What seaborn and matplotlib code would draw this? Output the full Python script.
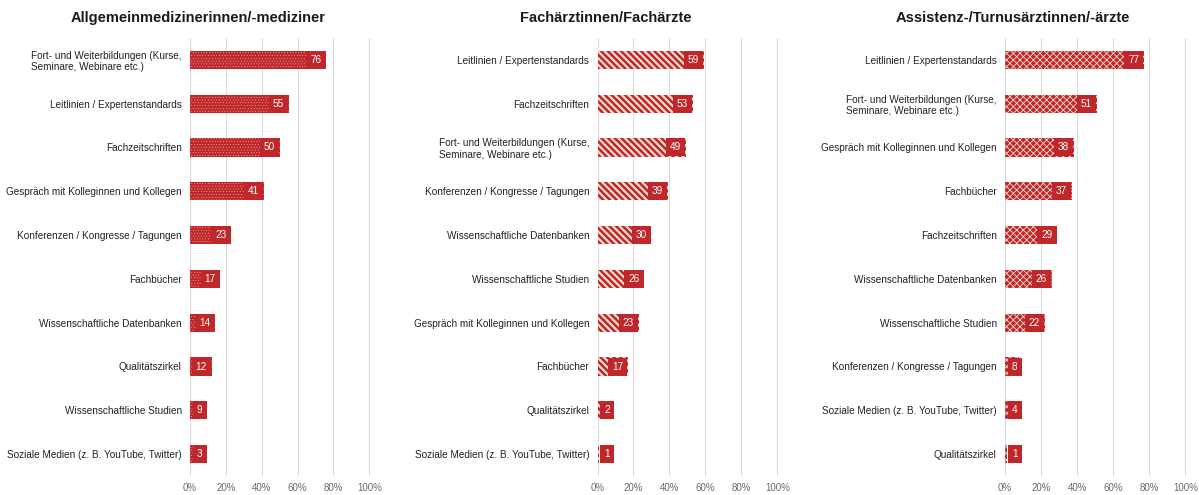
import matplotlib
matplotlib.use("Agg")
import matplotlib.pyplot as plt
import seaborn as sns
import pandas as pd
from matplotlib.ticker import FuncFormatter

# Survey results: share (%) of respondents naming each information source
titles = [
    "Allgemeinmedizinerinnen/-mediziner",
    "Fachärztinnen/Fachärzte",
    "Assistenz-/Turnusärztinnen/-ärzte",
]

gp_sources = [
    "Fort- und Weiterbildungen (Kurse,\nSeminare, Webinare etc.)",
    "Leitlinien / Expertenstandards",
    "Fachzeitschriften",
    "Gespräch mit Kolleginnen und Kollegen",
    "Konferenzen / Kongresse / Tagungen",
    "Fachbücher",
    "Wissenschaftliche Datenbanken",
    "Qualitätszirkel",
    "Wissenschaftliche Studien",
    "Soziale Medien (z. B. YouTube, Twitter)",
]
gp_values = [76, 55, 50, 41, 23, 17, 14, 12, 9, 3]

spec_sources = [
    "Leitlinien / Expertenstandards",
    "Fachzeitschriften",
    "Fort- und Weiterbildungen (Kurse,\nSeminare, Webinare etc.)",
    "Konferenzen / Kongresse / Tagungen",
    "Wissenschaftliche Datenbanken",
    "Wissenschaftliche Studien",
    "Gespräch mit Kolleginnen und Kollegen",
    "Fachbücher",
    "Qualitätszirkel",
    "Soziale Medien (z. B. YouTube, Twitter)",
]
spec_values = [59, 53, 49, 39, 30, 26, 23, 17, 2, 1]

resid_sources = [
    "Leitlinien / Expertenstandards",
    "Fort- und Weiterbildungen (Kurse,\nSeminare, Webinare etc.)",
    "Gespräch mit Kolleginnen und Kollegen",
    "Fachbücher",
    "Fachzeitschriften",
    "Wissenschaftliche Datenbanken",
    "Wissenschaftliche Studien",
    "Konferenzen / Kongresse / Tagungen",
    "Soziale Medien (z. B. YouTube, Twitter)",
    "Qualitätszirkel",
]
resid_values = [77, 51, 38, 37, 29, 26, 22, 8, 4, 1]

x_ticks = [0, 20, 40, 60, 80, 100]

sns.set_theme(style="white")
plt.rcParams["font.family"] = ["Liberation Sans", "DejaVu Sans"]

RED = "#c0272a"
HATCH_COLOR = "#f4dccd"

fig = plt.figure(figsize=(11.99, 4.95), dpi=100)

panels = [
    (gp_sources, gp_values, "......", 0.2, 190, 370, 198),
    (spec_sources, spec_values, "\\\\\\\\\\", 1.6, 597.5, 778, 606),
    (resid_sources, resid_values, "xxxxx", 0.6, 1005, 1186, 1013),
]

W, H = 1199, 495
top_px, bottom_px = 38, 476

for (sources, values, hatch, hlw, x0, x1, tx), title in zip(panels, titles):
    ax = fig.add_axes([x0 / W, 1 - bottom_px / H, (x1 - x0) / W,
                       (bottom_px - top_px) / H])
    df = pd.DataFrame({"Quelle": sources, "Anteil": values})
    with plt.rc_context({"hatch.linewidth": hlw}):
        sns.barplot(data=df, x="Anteil", y="Quelle", orient="h", color=RED,
                    saturation=1, width=0.42, ax=ax)
        for p in ax.patches:
            p.set_facecolor(RED)
            p.set_edgecolor(HATCH_COLOR)
            p.set_linewidth(0)
            p.set_hatch(hatch)
            if hasattr(p, "set_hatch_linewidth"):
                p.set_hatch_linewidth(hlw)

    # value labels on a solid box near the end of each bar
    for i, v in enumerate(values):
        ax.text(max(v - 2.6, 7.0), i, str(v), ha="right", va="center",
                fontsize=7.2, color="white",
                bbox=dict(boxstyle="square,pad=0.4", fc=RED, ec="none"))

    ax.set_xlim(0, 100.4)
    ax.set_ylim(len(values) - 0.5, -0.5)
    ax.set_xticks(x_ticks)
    ax.xaxis.set_major_formatter(FuncFormatter(lambda v, _: f"{v:.0f}%"))
    ax.set_xlabel("")
    ax.set_ylabel("")
    ax.grid(axis="x", color="#dcdcdc", linewidth=0.8)
    ax.set_axisbelow(True)
    for s in ax.spines.values():
        s.set_visible(False)
    ax.tick_params(axis="x", length=0, labelsize=7, labelcolor="#6a6a6a",
                   pad=5)
    ax.tick_params(axis="y", length=0, labelsize=7.2, labelcolor="#222222",
                   pad=6)
    for lbl in ax.get_yticklabels():
        lbl.set_multialignment("left")
    fig.text(tx / W, 1 - 18 / H, title, ha="center", va="center",
             fontsize=10.5, fontweight="bold", color="#1a1a1a")

fig.savefig("out.png", dpi=100, facecolor="white")
